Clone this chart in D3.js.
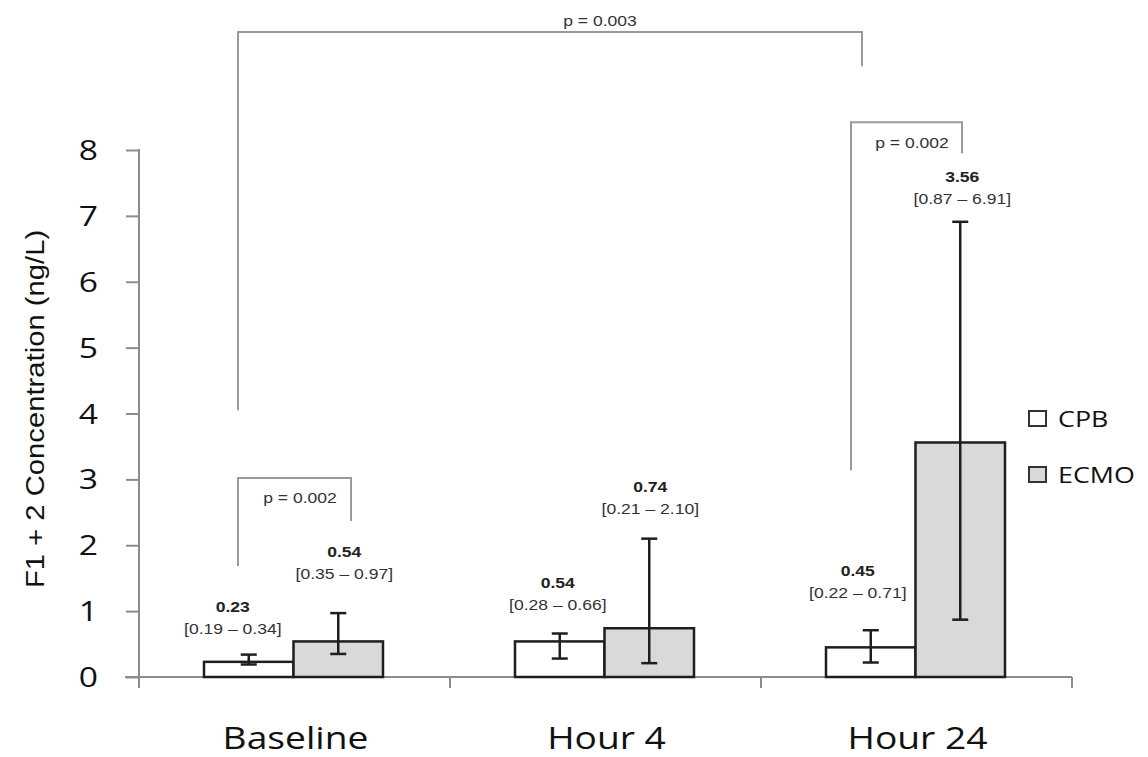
<!DOCTYPE html>
<html>
<head>
<meta charset="utf-8">
<script src="https://cdn.jsdelivr.net/npm/d3@7"></script>
<style>
  html, body { margin: 0; padding: 0; background: #fff; }
  svg { display: block; }
</style>
</head>
<body>
<svg id="chart" width="1148" height="757"></svg>
<script>
// ---------- data ----------
const categories = ["Baseline", "Hour 4", "Hour 24"];
const seriesNames = ["CPB", "ECMO"];
const cpbMedian = [0.23, 0.54, 0.45];
const cpbLow    = [0.19, 0.28, 0.22];
const cpbHigh   = [0.34, 0.66, 0.71];
const ecmoMedian = [0.54, 0.74, 3.56];
const ecmoLow    = [0.35, 0.21, 0.87];
const ecmoHigh   = [0.97, 2.10, 6.91];
const yTicks = [0, 1, 2, 3, 4, 5, 6, 7, 8];
const yTitle = "F1 + 2 Concentration (ng/L)";
const pLabels = ["p = 0.002", "p = 0.002", "p = 0.003"];

// ---------- layout ----------
const svg = d3.select("#chart");
const sansA = "'Liberation Sans', Arial, sans-serif";
const sansB = "'Open Sans', 'Noto Sans', sans-serif";
const axisColor = "#8c8c8c";
const barStroke = "#1e1e1e";
const fills = { CPB: "#ffffff", ECMO: "#d9d9d9" };

const x = d3.scaleBand().domain(categories).range([139, 1072]).paddingInner(0).paddingOuter(0);
const xs = d3.scaleBand().domain(seriesNames).range([65, 244]).padding(0);
const y = d3.scaleLinear().domain([0, 8]).range([677, 150]);

const rows = [];
categories.forEach((c, i) => {
  rows.push({ cat: c, s: "CPB", v: cpbMedian[i], lo: cpbLow[i], hi: cpbHigh[i] });
  rows.push({ cat: c, s: "ECMO", v: ecmoMedian[i], lo: ecmoLow[i], hi: ecmoHigh[i] });
});
// label layout (pixel lift above whisker, x nudge)
const labelLift = [21, 34, 24, 25, 32, 18];
const labelDx = [-16, 6, -2, 1, -13, 2];

const cx = d => x(d.cat) + xs(d.s) + xs.bandwidth() / 2;

// ---------- axes ----------
const yAxis = d3.axisLeft(y).tickValues(yTicks).tickSize(13).tickFormat("");
const gy = svg.append("g").attr("transform", "translate(139,0)").call(yAxis);
gy.select(".domain").remove();
gy.selectAll(".tick line").attr("stroke", axisColor).attr("stroke-width", 2);
svg.append("line").attr("x1", 139).attr("x2", 139).attr("y1", y(8) - 1).attr("y2", 688)
  .attr("stroke", axisColor).attr("stroke-width", 2);

// y tick labels
svg.append("g").selectAll("text").data(yTicks).join("text")
  .attr("transform", d => `translate(98,${y(d)}) scale(1.2,1)`)
  .attr("text-anchor", "end").attr("dy", "0.36em")
  .attr("font-family", sansB).attr("font-size", 28).attr("fill", "#111")
  .text(d => d);

// x axis baseline
svg.append("line").attr("x1", 125).attr("x2", 1072).attr("y1", y(0)).attr("y2", y(0))
  .attr("stroke", axisColor).attr("stroke-width", 2);
const bounds = categories.map(c => x(c) + x.bandwidth());
svg.append("g").selectAll("line").data(bounds).join("line")
  .attr("x1", d => d).attr("x2", d => d).attr("y1", y(0)).attr("y2", y(0) + 11)
  .attr("stroke", axisColor).attr("stroke-width", 2);

// category labels
svg.append("g").selectAll("text").data(categories).join("text")
  .attr("transform", d => `translate(${x(d) + x.bandwidth() / 2 + 1},749) scale(1.2,1)`)
  .attr("text-anchor", "middle")
  .attr("font-family", sansB).attr("font-size", 31).attr("fill", "#111")
  .text(d => d);

// y title
svg.append("text")
  .attr("transform", "translate(35,409) rotate(-90) scale(1.17,1)")
  .attr("text-anchor", "middle").attr("dy", "0.36em")
  .attr("font-family", sansA).attr("font-size", 25).attr("fill", "#111")
  .text(yTitle);

// ---------- bars ----------
svg.append("g").selectAll("rect").data(rows).join("rect")
  .attr("x", d => x(d.cat) + xs(d.s))
  .attr("y", d => y(d.v))
  .attr("width", xs.bandwidth())
  .attr("height", d => y(0) - y(d.v))
  .attr("fill", d => fills[d.s])
  .attr("stroke", barStroke).attr("stroke-width", 2.5);

// error bars
const eb = svg.append("g").attr("stroke", barStroke).attr("stroke-width", 2.5);
eb.selectAll("line.v").data(rows).join("line").attr("class", "v")
  .attr("x1", cx).attr("x2", cx).attr("y1", d => y(d.lo)).attr("y2", d => y(d.hi));
eb.selectAll("line.t").data(rows).join("line").attr("class", "t")
  .attr("x1", d => cx(d) - 8).attr("x2", d => cx(d) + 8).attr("y1", d => y(d.hi)).attr("y2", d => y(d.hi));
eb.selectAll("line.b").data(rows).join("line").attr("class", "b")
  .attr("x1", d => cx(d) - 8).attr("x2", d => cx(d) + 8).attr("y1", d => y(d.lo)).attr("y2", d => y(d.lo));

// value labels
const lab = svg.append("g");
rows.forEach((d, i) => {
  const bx = cx(d) + labelDx[i];
  const by = y(d.hi) - labelLift[i];
  lab.append("text")
    .attr("transform", `translate(${bx},${by}) scale(1.17,1)`)
    .attr("text-anchor", "middle")
    .attr("font-family", sansA).attr("font-size", 15).attr("font-weight", "bold").attr("fill", "#222")
    .attr("dy", -22)
    .text(d.v.toFixed(2));
  lab.append("text")
    .attr("transform", `translate(${bx},${by}) scale(1.17,1)`)
    .attr("text-anchor", "middle")
    .attr("font-family", sansA).attr("font-size", 15).attr("fill", "#333")
    .text(`[${d.lo.toFixed(2)} \u2013 ${d.hi.toFixed(2)}]`);
});

// ---------- significance brackets ----------
const brackets = [
  { label: pLabels[0], xl: x("Baseline") + 99, xr: x("Baseline") + 212, top: 3.02, lb: 1.684, rb: 2.367, tx: x("Baseline") + 161, ty: 2.73 },
  { label: pLabels[1], xl: x("Hour 24") + 90, xr: x("Hour 24") + 201, top: 8.42, lb: 3.14, rb: 7.95, tx: x("Hour 24") + 151, ty: 8.12 },
  { label: pLabels[2], xl: x("Baseline") + 99, xr: x("Hour 24") + 101, top: 9.79, lb: 4.05, rb: 9.27, tx: 600, ty: 9.97 }
];
const br = svg.append("g");
brackets.forEach(b => {
  br.append("path")
    .attr("d", `M${b.xl},${y(b.lb)} V${y(b.top)} H${b.xr} V${y(b.rb)}`)
    .attr("fill", "none").attr("stroke", "#9a9a9a").attr("stroke-width", 2);
  br.append("text")
    .attr("transform", `translate(${b.tx},${y(b.ty)}) scale(1.17,1)`)
    .attr("text-anchor", "middle").attr("dy", "0.36em")
    .attr("font-family", sansA).attr("font-size", 15).attr("fill", "#333")
    .text(b.label);
});

// ---------- legend ----------
const legY = [419, 475];
const leg = svg.append("g");
seriesNames.forEach((s, i) => {
  leg.append("rect").attr("x", 1029).attr("y", legY[i] - 8).attr("width", 17).attr("height", 15)
    .attr("fill", fills[s]).attr("stroke", "#333").attr("stroke-width", 2);
  leg.append("text")
    .attr("transform", `translate(1058,${legY[i]}) scale(1.22,1)`)
    .attr("dy", "0.36em")
    .attr("font-family", sansB).attr("font-size", 22).attr("fill", "#111")
    .text(s);
});
</script>
</body>
</html>
